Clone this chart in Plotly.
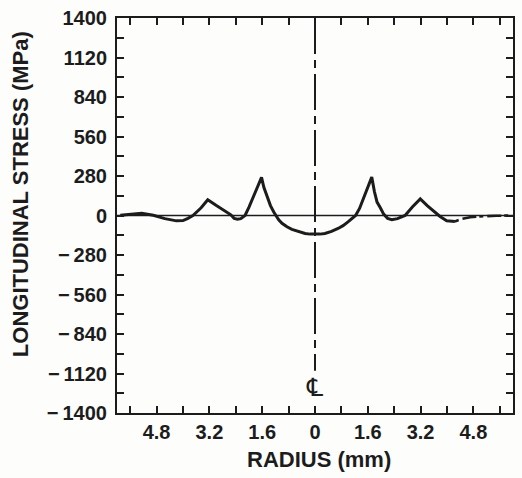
import plotly.graph_objects as go

# Longitudinal residual stress across the section, radius in mm (signed: left of centreline negative)
radius_mm = [-5.9, -5.5, -5.25, -4.9, -4.55, -4.2, -4.0, -3.85, -3.7, -3.45, -3.25,
             -3.0, -2.75, -2.55, -2.45, -2.35, -2.25, -2.12, -2.0, -1.8, -1.62,
             -1.55, -1.45, -1.35, -1.25, -1.18, -1.1, -1.0, -0.85, -0.7, -0.5, -0.3, -0.15,
             0.0, 0.15, 0.3, 0.5, 0.7, 0.85, 1.0, 1.12, 1.23,
             1.35, 1.45, 1.58, 1.72, 1.8, 1.88, 1.98, 2.08, 2.2, 2.33,
             2.5, 2.73, 2.95, 3.19, 3.4, 3.54, 3.79, 3.99, 4.24]
stress_mpa = [2, 12, 15, 2, -22, -38, -36, -20, 0, 55, 112,
              72, 37, 5, -20, -27, -22, 0, 60, 165, 270,
              200, 130, 70, 25, 0, -30, -55, -80, -98, -115, -127, -132,
              -133, -132, -127, -113, -92, -72, -45, -22, 0,
              50, 110, 190, 272, 170, 95, 55, 10, -20, -30,
              -22, 0, 60, 118, 70, 40, -7, -37, -42]

# Outer tail (broken line) towards the right edge
tail_radius_mm = [4.24, 4.44, 4.7, 5.0, 5.5, 5.95]
tail_stress_mpa = [-42, -25, -12, -6, -2, 0]

# Axis ticks
x_tick_vals = [-5.6, -4.8, -4.0, -3.2, -2.4, -1.6, -0.8, 0.0, 0.8, 1.6, 2.4, 3.2, 4.0, 4.8, 5.6]
x_tick_text = ["", "4.8", "", "3.2", "", "1.6", "", "0", "", "1.6", "", "3.2", "", "4.8", ""]
y_tick_vals = list(range(-1400, 1401, 140))
y_tick_text = [("−\u2009" + str(-v) if v < 0 else str(v)) if v % 280 == 0 else ""
               for v in y_tick_vals]

ink = "#1c1c1c"
font_family = "Liberation Sans, Arial, sans-serif"

fig = go.Figure()

# zero-stress reference line
fig.add_trace(go.Scatter(x=[-6, 6], y=[0, 0], mode="lines",
                         line=dict(color=ink, width=1.6), hoverinfo="skip", showlegend=False))

fig.add_trace(go.Scatter(x=radius_mm, y=stress_mpa, mode="lines",
                         line=dict(color=ink, width=3), showlegend=False))

fig.add_trace(go.Scatter(x=tail_radius_mm, y=tail_stress_mpa, mode="lines",
                         line=dict(color=ink, width=2.6, dash="4px,4px,14px,3px"),
                         showlegend=False))

# centreline
fig.add_shape(type="line", x0=0, x1=0, y0=1400, y1=-1100, xref="x", yref="y",
              line=dict(color=ink, width=2, dash="36px,6px,8px,6px"))

# centreline symbol
fig.add_annotation(x=-0.03, y=-1220, xref="x", yref="y", text="\u2104", showarrow=False,
                   font=dict(family="DejaVu Sans", size=25, color=ink))

# axis titles
fig.add_annotation(x=-0.244, y=0.555, xref="paper", yref="paper", xanchor="center",
                   yanchor="middle", text="<b>LONGITUDINAL STRESS (MPa)</b>", textangle=-90,
                   showarrow=False, font=dict(family=font_family, size=22, color=ink))
fig.add_annotation(x=0.51, y=-0.118, xref="paper", yref="paper", xanchor="center",
                   yanchor="middle", text="<b>RADIUS (mm)</b>", showarrow=False,
                   font=dict(family=font_family, size=22, color=ink))

axis_common = dict(showgrid=False, zeroline=False, showline=True, linecolor=ink, linewidth=2,
                   mirror="ticks", ticks="inside", ticklen=7, tickwidth=2, tickcolor=ink,
                   tickfont=dict(family=font_family, size=20, color=ink))

fig.update_xaxes(range=[-6, 6], tickmode="array", tickvals=x_tick_vals,
                 ticktext=["<b>%s</b>" % t if t else "" for t in x_tick_text],
                 ticklabelstandoff=0, **axis_common)
fig.update_yaxes(range=[-1400, 1400], tickmode="array", tickvals=y_tick_vals,
                 ticktext=["<b>%s</b>" % t if t else "" for t in y_tick_text],
                 ticklabelstandoff=4, **axis_common)

fig.update_layout(width=522, height=478, margin=dict(l=117, r=7, t=15, b=65),
                  paper_bgcolor="#fdfdfc", plot_bgcolor="#fdfdfc",
                  font=dict(family=font_family, color=ink))

fig.write_html("out.html")
